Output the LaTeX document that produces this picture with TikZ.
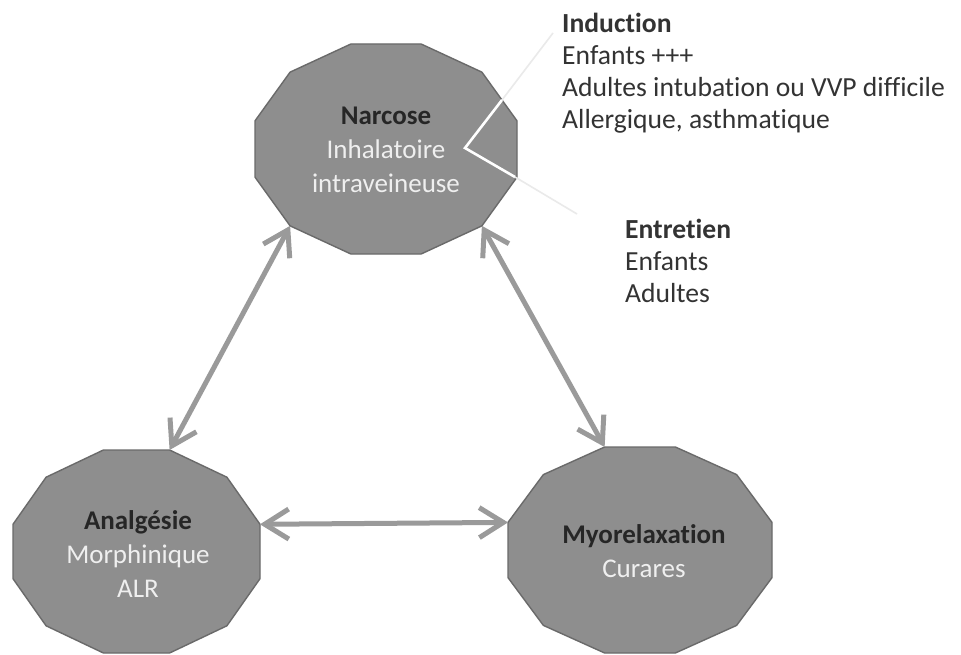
\documentclass[tikz,border=0pt]{standalone}
\usepackage{fontspec}
\setmainfont{Carlito}[Ligatures={NoCommon}]
\usetikzlibrary{arrows.meta}
\definecolor{polyfill}{HTML}{8E8E8E}
\definecolor{polyedge}{HTML}{6A6A6A}
\definecolor{titlecol}{HTML}{262626}
\definecolor{subcol}{HTML}{EFEFEF}
\definecolor{arrowcol}{HTML}{9A9A9A}
\definecolor{notecol}{HTML}{333333}
\definecolor{faint}{HTML}{EAEAEA}
\tikzset{
  shapestyle/.style={fill=polyfill, draw=polyedge, line width=1.4pt, line join=round},
  inner/.style={align=center, inner sep=0pt, text=titlecol, font=\fontsize{27}{34}\selectfont},
  note/.style={align=left, inner sep=0pt, text=notecol, font=\fontsize{27.6}{32}\selectfont, anchor=north west},
  link/.style={draw=arrowcol, line width=5pt, {Straight Barb[length=24pt,width=30pt]}-{Straight Barb[length=24pt,width=30pt]}},
  callin/.style={draw=white, line width=2.6pt},
  callout/.style={draw=faint, line width=1.6pt}
}
\newcommand\mydodec[5]{%
  \begin{scope}[shift={(#2,#3)},xscale=#4,yscale=#5]
    \path[shapestyle] (1,-0.268) -- (1,0.268) -- (0.732,0.732) -- (0.268,1) -- (-0.268,1)
      -- (-0.732,0.732) -- (-1,0.268) -- (-1,-0.268) -- (-0.732,-0.732) -- (-0.268,-1)
      -- (0.268,-1) -- (0.732,-0.732) -- cycle;
    \coordinate (#1-ru) at (1,-0.268);
    \coordinate (#1-lu) at (-1,-0.268);
    \coordinate (#1-bl) at (-0.732,0.732);
    \coordinate (#1-br) at (0.732,0.732);
    \coordinate (#1-tl) at (-0.268,-1);
    \coordinate (#1-tr) at (0.268,-1);
  \end{scope}}
\begin{document}
\begin{tikzpicture}[x=1pt,y=-1pt]
\useasboundingbox[fill=white] (0,0) rectangle (961,655);

\mydodec{narS}{386}{149}{131}{105}
\mydodec{anaS}{136.5}{551.5}{123.5}{101.5}
\mydodec{myoS}{640}{550}{132}{103}

% callout lines from Narcose
\coordinate (cv) at (465,148);
\coordinate (cu) at (502,100);
\coordinate (cd) at (515,177);
\coordinate (cuo) at (553,33);
\coordinate (cdo) at (577,214);
\draw[callout] (cu) -- (cuo);
\draw[callout] (cd) -- (cdo);
\draw[callin, line join=miter] (cu) -- (cv) -- (cd);

\node[inner] (nar) at (386,150) {\textbf{Narcose}\\ \textcolor{subcol}{Inhalatoire}\\ \textcolor{subcol}{intraveineuse}};
\node[inner] (ana) at (138,554) {\textbf{Analgésie}\\ \textcolor{subcol}{Morphinique}\\ \textcolor{subcol}{ALR}};
\node[inner] (myo) at (644,551) {\textbf{Myorelaxation}\\ \textcolor{subcol}{Curares}};

\node[note] (ind) at (562,13) {\textbf{Induction}\\ Enfants +++\\ Adultes intubation ou VVP difficile\\ Allergique, asthmatique};
\node[note] (ent) at (625,219) {\textbf{Entretien}\\ Enfants\\ Adultes};

\draw[link] (narS-bl) -- (anaS-tr);
\draw[link] (narS-br) -- (myoS-tl);
\draw[link] (anaS-ru) -- (myoS-lu);
\end{tikzpicture}
\end{document}
